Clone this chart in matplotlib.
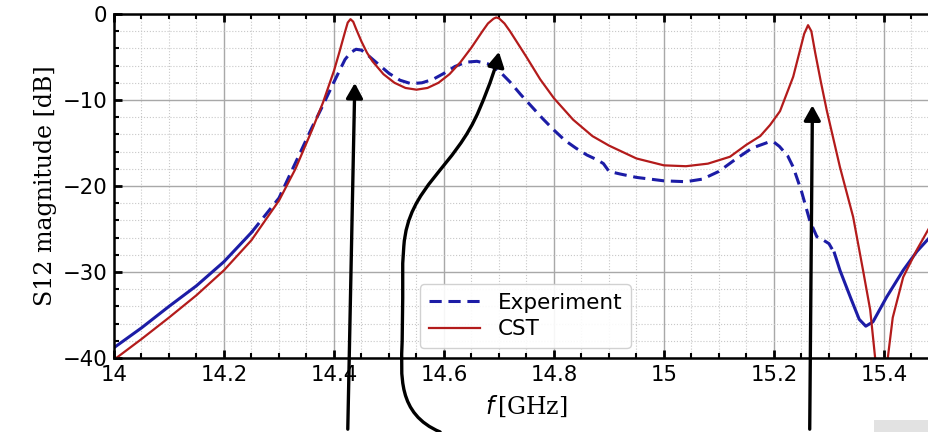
import numpy as np
import matplotlib.pyplot as plt
from matplotlib.path import Path
from matplotlib.patches import FancyArrowPatch, Rectangle

# measured S12 (dB) vs frequency (GHz)
f_exp = [14.00, 14.05, 14.10, 14.15, 14.20, 14.25, 14.30, 14.33, 14.36, 14.38,
         14.40, 14.42, 14.43, 14.44, 14.45, 14.46, 14.48, 14.50, 14.52, 14.54, 14.56, 14.58,
         14.60, 14.62, 14.64, 14.66, 14.68, 14.70, 14.72, 14.74, 14.76, 14.78,
         14.80, 14.82, 14.84, 14.86, 14.88, 14.89, 14.90, 14.92, 14.95, 15.00,
         15.04, 15.07, 15.10, 15.13, 15.16, 15.19, 15.20, 15.21, 15.225, 15.235,
         15.25, 15.265, 15.278, 15.29, 15.30, 15.31, 15.32, 15.34, 15.355, 15.367,
         15.38, 15.405, 15.435, 15.46, 15.49]
s12_exp = [-38.8, -36.5, -34.0, -31.6, -28.8, -25.4, -21.4, -17.3, -13.2, -10.6,
           -7.9, -5.3, -4.5, -4.1, -4.2, -4.7, -5.8, -6.9, -7.7, -8.1, -8.0, -7.6,
           -6.9, -6.1, -5.6, -5.5, -5.8, -6.6, -7.9, -9.4, -10.8, -12.2,
           -13.5, -14.7, -15.6, -16.4, -17.0, -17.4, -18.3, -18.6, -19.0, -19.4,
           -19.5, -19.2, -18.3, -16.9, -15.6, -14.9, -14.9, -15.4, -16.5, -17.8,
           -20.6, -24.0, -25.9, -26.3, -26.7, -27.8, -29.8, -33.1, -35.5, -36.3,
           -35.8, -32.9, -29.8, -27.6, -25.5]

# CST simulation
f_cst = [14.00, 14.05, 14.10, 14.15, 14.20, 14.25, 14.30, 14.33, 14.36, 14.38,
         14.40, 14.41, 14.42, 14.425, 14.43, 14.435, 14.44, 14.45, 14.46, 14.47,
         14.49, 14.51, 14.53, 14.55, 14.57, 14.59, 14.61, 14.63, 14.65, 14.67,
         14.68, 14.69, 14.695, 14.70, 14.71, 14.72, 14.73, 14.75, 14.775, 14.80,
         14.835, 14.87, 14.90, 14.95, 15.00, 15.04, 15.08, 15.12, 15.15, 15.175,
         15.193, 15.211, 15.235, 15.245, 15.255, 15.262, 15.268, 15.275, 15.285, 15.296,
         15.32, 15.344, 15.362, 15.375, 15.384, 15.39, 15.395, 15.40, 15.407, 15.416,
         15.435, 15.46, 15.49]
s12_cst = [-40.2, -37.8, -35.3, -32.7, -29.8, -26.3, -21.7, -18.0, -13.5, -10.3,
           -6.6, -4.4, -2.1, -1.0, -0.6, -0.9, -1.7, -3.2, -4.5, -5.5,
           -7.0, -8.0, -8.6, -8.8, -8.6, -8.0, -7.0, -5.6, -3.9, -2.0,
           -1.1, -0.55, -0.4, -0.5, -1.1, -2.0, -3.0, -5.0, -7.6, -9.8,
           -12.3, -14.2, -15.3, -16.8, -17.6, -17.7, -17.4, -16.6, -15.2, -14.2,
           -12.9, -11.3, -7.3, -4.8, -2.3, -1.3, -2.0, -4.5, -7.8, -11.2,
           -17.8, -23.6, -29.8, -34.4, -40.0, -46.0, -55.0, -47.0, -40.0, -35.3,
           -30.6, -27.4, -24.0]

x_ticks = [14.0, 14.2, 14.4, 14.6, 14.8, 15.0, 15.2, 15.4]
x_ticklabels = ['14', '14.2', '14.4', '14.6', '14.8', '15', '15.2', '15.4']
y_ticks = [0, -10, -20, -30, -40]

# resonance markers: (tail, head) in data units
arrow_marks = [((14.425, -48.6), (14.438, -7.7)),
               ((15.265, -48.6), (15.270, -10.3))]

blue = '#1c1ca6'
red = '#b31b1b'

fig = plt.figure(figsize=(9.29, 4.32), dpi=100)
ax = fig.add_axes([0.1227, 0.1713, 0.888, 0.7963])

f_exp = np.array(f_exp)
s12_exp = np.array(s12_exp)
lo = f_exp <= 14.25
hi = f_exp >= 15.31
mid = (f_exp >= 14.25) & (f_exp <= 15.31)
ax.plot(f_exp[mid], s12_exp[mid], color=blue, lw=2.2, ls=(0, (4, 2.2)), label='Experiment')
ax.plot(f_exp[lo], s12_exp[lo], color=blue, lw=2.2)
ax.plot(f_exp[hi], s12_exp[hi], color=blue, lw=2.2)
ax.plot(f_cst, s12_cst, color=red, lw=1.6, label='CST')

ax.set_xlim(14, 15.5)
ax.set_ylim(-40, 0)
ax.set_xticks(x_ticks)
ax.set_xticklabels(x_ticklabels)
ax.set_yticks(y_ticks)
ax.set_xticks(np.arange(14, 15.5, 0.05), minor=True)
ax.set_yticks(np.arange(-40, 0.1, 2), minor=True)
ax.tick_params(which='both', direction='in', top=True, right=True, labelsize=15.3)
ax.tick_params(which='major', length=6, width=2, pad=5)
ax.tick_params(which='minor', length=3.5, width=1.5)
for s in ax.spines.values():
    s.set_linewidth(1.8)
ax.grid(which='major', color='#a8a8a8', lw=1)
ax.grid(which='minor', color='#c8c8c8', lw=0.8, ls=':')
ax.set_axisbelow(True)

ax.set_ylabel('S12 magnitude [dB]', family='DejaVu Serif', fontsize=17, labelpad=4)
ax.set_xlabel(r'$f\,$[GHz]', family='DejaVu Serif', fontsize=17, labelpad=6)

ax.legend(loc='lower left', bbox_to_anchor=(0.371, 0.029), borderaxespad=0,
          fontsize=15.5, handlelength=2.4, labelspacing=0.3, framealpha=0.9)

# straight arrows up to the resonances
for tail, head in arrow_marks:
    ax.add_patch(FancyArrowPatch(tail, head, arrowstyle='-|>,head_length=9,head_width=5',
                                 color='black', lw=2.4, clip_on=False, zorder=6))

# curved arrow to the second resonance
verts = [(14.593, -48.6), (14.515, -46.5), (14.522, -42.0), (14.524, -38.0),
         (14.525, -33.0), (14.525, -29.0), (14.527, -27.0),
         (14.535, -20.0), (14.62, -18.0), (14.665, -11.0),
         (14.685, -8.0), (14.695, -6.0), (14.700, -4.4)]
codes = [Path.MOVETO, Path.CURVE4, Path.CURVE4, Path.CURVE4,
         Path.LINETO, Path.LINETO, Path.LINETO,
         Path.CURVE4, Path.CURVE4, Path.CURVE4,
         Path.CURVE4, Path.CURVE4, Path.CURVE4]
curved = FancyArrowPatch(path=Path(verts, codes), arrowstyle='-|>,head_length=9,head_width=5',
                         color='black', lw=2.4, clip_on=False, zorder=6,
                         transform=ax.transData)
ax.add_patch(curved)

fig.patches.append(Rectangle((874 / 929, 0), 55 / 929, 12 / 432, transform=fig.transFigure,
                             facecolor='#e2e2e2', edgecolor='none'))

fig.savefig('out.png', dpi=100)
